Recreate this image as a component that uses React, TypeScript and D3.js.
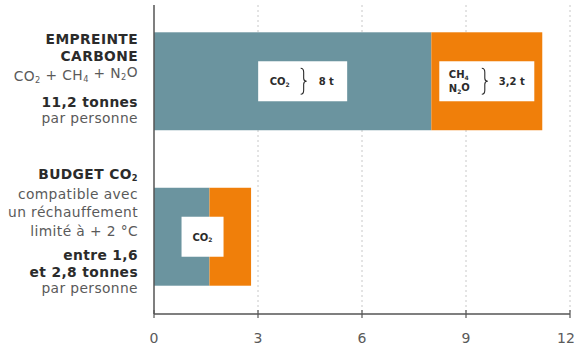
import React from 'react';
import * as d3 from 'd3';

const rows = ['empreinte', 'budget'];
const co2Values = [8, 1.6];
const otherValues = [3.2, 1.2];
const xTicks = [0, 3, 6, 9, 12];

const W = 587;
const H = 355;
const BLUE = '#6b949f';
const ORANGE = '#f07f0a';
const DARK = '#2b2b2b';
const GREY = '#5a5a5a';
const FONT = '"DejaVu Sans", Verdana, sans-serif';

const x = d3.scaleLinear().domain([0, 12]).range([154, 570]);
const y = d3.scaleBand().domain(rows).range([4, 314]).paddingInner(0.37).paddingOuter(0.182);

// brace "}" drawn as a path, centred on (cx, cy)
const brace = (cx: number, cy: number, h: number) => {
  const t = cy - h / 2;
  const b = cy + h / 2;
  return `M${cx - 3},${t} Q${cx},${t} ${cx},${t + 4} L${cx},${cy - 3} Q${cx},${cy} ${cx + 3},${cy} Q${cx},${cy} ${cx},${cy + 3} L${cx},${b - 4} Q${cx},${b} ${cx - 3},${b}`;
};

const Sub = ({ children }: { children: React.ReactNode }) => (
  <tspan fontSize="0.6em" dy="0.25em">{children}</tspan>
);

export default function App() {
  const b0 = y('empreinte')!;
  const b1 = y('budget')!;
  const bh = y.bandwidth();
  const c0 = b0 + bh / 2;
  const c1 = b1 + bh / 2;

  const box1x = (x(0) + x(co2Values[0])) / 2 + 10;
  const box2x = (x(co2Values[0]) + x(co2Values[0] + otherValues[0])) / 2;
  const box3x = x((co2Values[1] + otherValues[1]) / 2);

  return (
    <svg width={W} height={H} style={{ position: 'absolute', left: 0, top: 0, background: '#fff' }} fontFamily={FONT}>
      {/* grid */}
      {xTicks.filter((t) => t > 0).map((t) => (
        <line key={t} x1={x(t)} x2={x(t)} y1={5} y2={314} stroke="#c8c8c8" strokeWidth={1} strokeDasharray="2,3" />
      ))}

      {/* bars */}
      {rows.map((r, i) => (
        <g key={r}>
          <rect x={x(0)} y={y(r)} width={x(co2Values[i]) - x(0)} height={bh} fill={BLUE} />
          <rect x={x(co2Values[i])} y={y(r)} width={x(co2Values[i] + otherValues[i]) - x(co2Values[i])} height={bh} fill={ORANGE} />
        </g>
      ))}

      {/* box labels */}
      <g fontWeight="bold" fontSize={10} fill={DARK}>
        <rect x={box1x - 44.5} y={c0 - 20} width={89} height={40} fill="#fff" />
        <text x={box1x - 33} y={c0 + 4}>CO<Sub>2</Sub></text>
        <path d={brace(box1x + 1, c0, 26)} fill="none" stroke={DARK} strokeWidth={1.1} />
        <text x={box1x + 16} y={c0 + 4}>8 t</text>

        <rect x={box2x - 47.5} y={c0 - 20} width={95} height={40} fill="#fff" />
        <text x={box2x - 38} y={c0 - 3}>CH<Sub>4</Sub></text>
        <text x={box2x - 38} y={c0 + 11}>N<Sub>2</Sub><tspan dy="-0.25em">O</tspan></text>
        <path d={brace(box2x - 2, c0, 26)} fill="none" stroke={DARK} strokeWidth={1.1} />
        <text x={box2x + 12} y={c0 + 4}>3,2 t</text>

        <rect x={box3x - 21} y={c1 - 20} width={42} height={40} fill="#fff" />
        <text x={box3x} y={c1 + 4} textAnchor="middle">CO<Sub>2</Sub></text>
      </g>

      {/* axes */}
      <line x1={x(0)} x2={x(0)} y1={5} y2={314} stroke="#555" strokeWidth={1.5} />
      <line x1={x(0)} x2={x(12)} y1={314} y2={314} stroke="#555" strokeWidth={1.5} />
      {xTicks.map((t) => (
        <g key={t}>
          <line x1={x(t)} x2={x(t)} y1={310} y2={318} stroke="#555" strokeWidth={1.2} />
          <text x={x(t) - (t === 12 ? 4 : 0)} y={343} textAnchor="middle" fontSize={14} fill={GREY}>{t}</text>
        </g>
      ))}

      {/* left labels */}
      <g textAnchor="end" fontSize={13.8} letterSpacing={0.4}>
        <text x={138} y={44} fontWeight="bold" fill={DARK}>EMPREINTE</text>
        <text x={138} y={61} fontWeight="bold" fill={DARK}>CARBONE</text>
        <text x={138} y={81} fill={GREY}>CO<Sub>2</Sub><tspan dy="-0.25em"> + CH</tspan><Sub>4</Sub><tspan dy="-0.25em"> + N</tspan><Sub>2</Sub><tspan dy="-0.25em">O</tspan></text>
        <text x={138} y={107} fontWeight="bold" fill={DARK}>11,2 tonnes</text>
        <text x={138} y={123} fill={GREY}>par personne</text>

        <text x={138} y={179} fontWeight="bold" fill={DARK}>BUDGET CO<Sub>2</Sub></text>
        <text x={138} y={199} fill={GREY}>compatible avec</text>
        <text x={138} y={217} fill={GREY}>un réchauffement</text>
        <text x={138} y={236} fill={GREY}>limité à + 2 °C</text>
        <text x={138} y={260} fontWeight="bold" fill={DARK}>entre 1,6</text>
        <text x={138} y={277} fontWeight="bold" fill={DARK}>et 2,8 tonnes</text>
        <text x={138} y={293} fill={GREY}>par personne</text>
      </g>
    </svg>
  );
}
